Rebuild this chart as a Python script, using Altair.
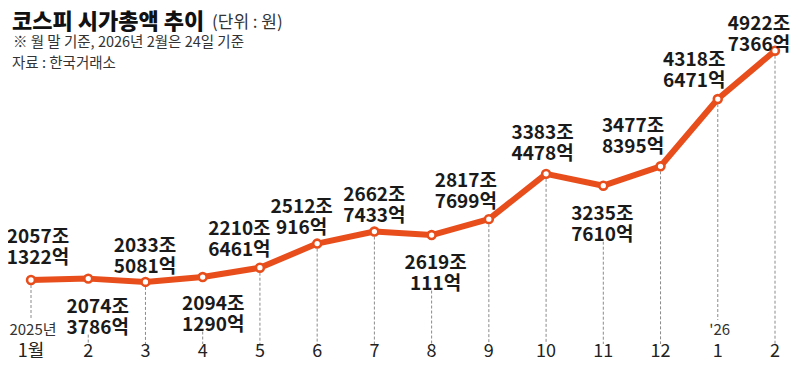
import altair as alt
import pandas as pd

# ---------------- data ----------------
months = ["1월", "2", "3", "4", "5", "6", "7", "8", "9", "10", "11", "12", "1", "2"]
jo = [2057, 2074, 2033, 2094, 2210, 2512, 2662, 2619, 2817, 3383, 3235, 3477, 4318, 4922]
eok = [1322, 3786, 5081, 1290, 6461, 916, 7433, 111, 7699, 4478, 7610, 8395, 6471, 7366]
year_idx = [0, 12]
year_text = ["2025년", "'26"]

title_text = "코스피 시가총액 추이"
unit_text = "(단위 : 원)"
note_text = "※ 월 말 기준, 2026년 2월은 24일 기준"
source_text = "자료 : 한국거래소"

# ---------------- layout ----------------
W, H = 784, 355
X_DOMAIN = [-0.402, 13.297]
Y_DOMAIN = [1019.9, 5456.3]
PX_X = W / (X_DOMAIN[1] - X_DOMAIN[0])
PX_Y = H / (Y_DOMAIN[1] - Y_DOMAIN[0])

# label anchor offset from its point, in pixels (right / down positive)
label_dx = [7, 9.5, -0.5, 10.5, -20.5, -15.5, 0, 4, -23, -3.5, -1, -27.5, -23.5, -16]
label_dy = [-43, 28, -36, 26.5, -38.5, -37, -37, 27.5, -38.5, -41, 28, -40, -39.5, -27]

ORANGE = "#E84E1B"
NUM_FONT = "Noto Sans CJK KR"
KR_FONT = "Noto Sans CJK KR"


def y_at(px):
    """data value at a pixel row of the plot"""
    return Y_DOMAIN[1] - px / PX_Y


rows = []
for i, (m, j, e) in enumerate(zip(months, jo, eok)):
    v = j + e / 10000
    dx, dy = label_dx[i], label_dy[i]
    below = dy > 0
    rule_top = v - (dy + 28) / PX_Y if below else v
    rule_bot = y_at(312) if i in year_idx else y_at(336)
    rows.append(
        dict(
            i=i,
            month=m,
            value=v,
            label=f"{j}조\n{e}억",
            lx=i + dx / PX_X,
            ly=v - dy / PX_Y,
            rule_top=rule_top,
            rule_bot=rule_bot,
            month_y=y_at(349),
        )
    )
df = pd.DataFrame(rows)
df_year = pd.DataFrame({"i": year_idx, "t": year_text, "yy": [y_at(327)] * len(year_idx)})

xs = alt.Scale(domain=X_DOMAIN, nice=False, zero=False)
ys = alt.Scale(domain=Y_DOMAIN, nice=False, zero=False)

base = alt.Chart(df)

rules = base.mark_rule(strokeDash=[3, 2], color="#8a8a8a", strokeWidth=1).encode(
    x=alt.X("i:Q", scale=xs, axis=None),
    y=alt.Y("rule_top:Q", scale=ys, axis=None),
    y2="rule_bot:Q",
)

line = base.mark_line(color=ORANGE, strokeWidth=6, strokeJoin="round").encode(
    x=alt.X("i:Q", scale=xs, axis=None),
    y=alt.Y("value:Q", scale=ys, axis=None),
)

points = base.mark_circle(color="white", stroke=ORANGE, strokeWidth=2.6, size=62, opacity=1).encode(
    x=alt.X("i:Q", scale=xs, axis=None),
    y=alt.Y("value:Q", scale=ys, axis=None),
)

labels = base.mark_text(
    font=NUM_FONT, fontSize=19, fontWeight="bold", lineBreak="\n", lineHeight=21,
    align="center", baseline="middle", color="#1a1a1a",
).encode(
    x=alt.X("lx:Q", scale=xs, axis=None),
    y=alt.Y("ly:Q", scale=ys, axis=None),
    text="label:N",
)

month_labels = base.mark_text(
    font=NUM_FONT, fontSize=18, align="center", baseline="alphabetic", color="#222222"
).encode(
    x=alt.X("i:Q", scale=xs, axis=None),
    y=alt.Y("month_y:Q", scale=ys, axis=None),
    text="month:N",
)

year_labels = alt.Chart(df_year).mark_text(
    font=NUM_FONT, fontSize=15, align="center", baseline="alphabetic", color="#333333", dx=2
).encode(
    x=alt.X("i:Q", scale=xs, axis=None),
    y=alt.Y("yy:Q", scale=ys, axis=None),
    text="t:N",
)

title = alt.Chart(pd.DataFrame({"t": [title_text]})).mark_text(
    font=KR_FONT, fontSize=22, fontWeight=900, align="left", baseline="alphabetic", color="#111111"
).encode(x=alt.value(4), y=alt.value(21), text="t:N")

unit = alt.Chart(pd.DataFrame({"t": [unit_text]})).mark_text(
    font=KR_FONT, fontSize=17, align="left", baseline="alphabetic", color="#333333"
).encode(x=alt.value(204), y=alt.value(20), text="t:N")

note = alt.Chart(pd.DataFrame({"t": [note_text]})).mark_text(
    font=KR_FONT, fontSize=14.5, align="left", baseline="alphabetic", color="#333333"
).encode(x=alt.value(5), y=alt.value(39), text="t:N")

source = alt.Chart(pd.DataFrame({"t": [source_text]})).mark_text(
    font=KR_FONT, fontSize=14.5, align="left", baseline="alphabetic", color="#333333"
).encode(x=alt.value(4), y=alt.value(60), text="t:N")

chart = (
    alt.layer(rules, line, points, labels, month_labels, year_labels, title, unit, note, source)
    .properties(width=W, height=H, autosize=alt.AutoSizeParams(type="none"), padding=0)
    .configure_view(stroke=None)
)

chart.save("out.html", embed_options={"renderer": "svg", "actions": False})
